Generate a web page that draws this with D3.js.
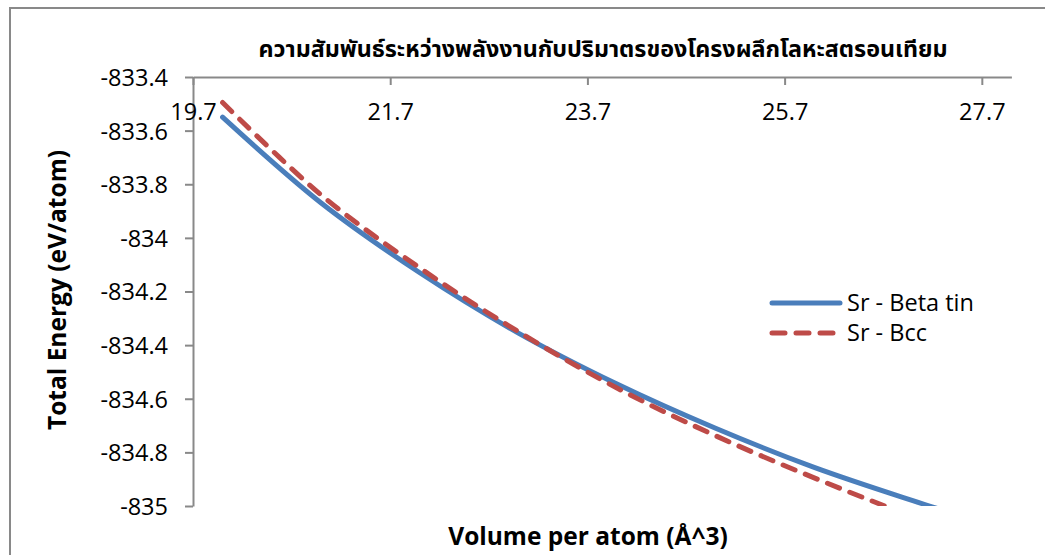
<!DOCTYPE html>
<html>
<head>
<meta charset="utf-8">
<script src="https://cdn.jsdelivr.net/npm/d3@7"></script>
<style>
  html, body { margin: 0; padding: 0; background: #fff; }
  svg { display: block; }
  .tick text { font-family: "Open Sans", "DejaVu Sans", sans-serif; font-size: 23.5px; fill: #000; }
</style>
</head>
<body>
<svg id="chart" width="1045" height="555"></svg>
<script>
// Chart text
const chartTitle = "ความสัมพันธ์ระหว่างพลังงานกับปริมาตรของโครงผลึกโลหะสตรอนเทียม";
const xTitle = "Volume per atom (Å^3)";
const yTitle = "Total Energy (eV/atom)";

// Volume per atom (Å^3)
const volumes = [20, 21, 22, 23, 24, 25, 26, 27, 28];
// Total energy (eV/atom) for each structure
const betaTin = [-833.55, -833.87, -834.13, -834.355, -834.545, -834.71, -834.856, -834.98, -835.095];
const bcc     = [-833.495, -833.84, -834.112, -834.35, -834.56, -834.738, -834.895, -835.04, -835.175];

const seriesNames = ["Sr - Beta tin", "Sr - Bcc"];
const seriesColors = ["#4a7ebb", "#be4b48"];

// Axis ticks
const xTickValues = [19.7, 21.7, 23.7, 25.7, 27.7];
const xTickLabels = ["19.7", "21.7", "23.7", "25.7", "27.7"];
const yTickValues = [-833.4, -833.6, -833.8, -834, -834.2, -834.4, -834.6, -834.8, -835];
const yTickLabels = ["-833.4", "-833.6", "-833.8", "-834", "-834.2", "-834.4", "-834.6", "-834.8", "-835"];

const svg = d3.select("#chart");
const axisColor = "#898989";

// outer chart frame
svg.append("rect")
  .attr("x", 10).attr("y", 8)
  .attr("width", 1060).attr("height", 580)
  .attr("fill", "none")
  .attr("stroke", axisColor)
  .attr("stroke-width", 2);

const plot = { left: 193, top: 77, right: 1011.4, bottom: 506 };

const x = d3.scaleLinear().domain([19.7, 28]).range([plot.left, plot.right]);
const y = d3.scaleLinear().domain([-835, -833.4]).range([plot.bottom, plot.top]);

// y axis
const yAxis = d3.axisLeft(y)
  .tickValues(yTickValues)
  .tickFormat((d, i) => yTickLabels[i])
  .tickSize(8)
  .tickSizeOuter(0)
  .tickPadding(17);

const gy = svg.append("g")
  .attr("transform", `translate(${plot.left},0)`)
  .call(yAxis);
gy.selectAll("text").attr("dy", "0.36em");

// x axis, crossing at the top of the value range
const xAxis = d3.axisBottom(x)
  .tickValues(xTickValues)
  .tickFormat((d, i) => xTickLabels[i])
  .tickSize(8)
  .tickSizeOuter(0)
  .tickPadding(18.3);

const gx = svg.append("g")
  .attr("transform", `translate(0,${plot.top})`)
  .call(xAxis);

[gx, gy].forEach(g => {
  g.select(".domain").attr("stroke", axisColor).attr("stroke-width", 2);
  g.selectAll(".tick line").attr("stroke", axisColor).attr("stroke-width", 2);
});

// clip the curves to the plot area
svg.append("clipPath").attr("id", "plot-clip")
  .append("rect")
  .attr("x", plot.left).attr("y", plot.top)
  .attr("width", plot.right - plot.left)
  .attr("height", plot.bottom - plot.top);

const line = d3.line()
  .x(d => x(d[0]))
  .y(d => y(d[1]))
  .curve(d3.curveCatmullRom.alpha(0.5));

const series = [betaTin, bcc];
const dashes = [null, "13 11"];

const gLines = svg.append("g").attr("clip-path", "url(#plot-clip)");
series.forEach((vals, i) => {
  gLines.append("path")
    .datum(volumes.map((v, j) => [v, vals[j]]))
    .attr("d", line)
    .attr("fill", "none")
    .attr("stroke", seriesColors[i])
    .attr("stroke-width", 5)
    .attr("stroke-linecap", "round")
    .attr("stroke-linejoin", "round")
    .attr("stroke-dasharray", dashes[i]);
});

// legend
const legend = svg.append("g");
const legendRows = [303, 333];
seriesNames.forEach((name, i) => {
  legend.append("line")
    .attr("x1", 772).attr("x2", 840)
    .attr("y1", legendRows[i]).attr("y2", legendRows[i])
    .attr("stroke", seriesColors[i])
    .attr("stroke-width", 5)
    .attr("stroke-linecap", "round")
    .attr("stroke-dasharray", dashes[i]);
  legend.append("text")
    .attr("x", 847).attr("y", legendRows[i])
    .attr("dy", "0.36em")
    .attr("font-family", "'Open Sans', 'DejaVu Sans', sans-serif")
    .attr("font-size", 23.5)
    .attr("fill", "#000")
    .text(name);
});

// title
svg.append("text")
  .attr("x", 603).attr("y", 57)
  .attr("text-anchor", "middle")
  .attr("font-family", "'Noto Sans Thai', Tahoma, 'Leelawadee UI', Garuda, Loma, 'DejaVu Sans', sans-serif")
  .attr("font-weight", "bold")
  .attr("font-size", 23.3)
  .attr("fill", "#000")
  .text(chartTitle);

// axis titles
svg.append("text")
  .attr("x", 588).attr("y", 545)
  .attr("text-anchor", "middle")
  .attr("font-family", "'Open Sans', 'DejaVu Sans', sans-serif")
  .attr("font-weight", "bold")
  .attr("font-size", 24.5)
  .attr("fill", "#000")
  .text(xTitle);

svg.append("text")
  .attr("transform", "translate(66,290) rotate(-90)")
  .attr("text-anchor", "middle")
  .attr("font-family", "'Open Sans', 'DejaVu Sans', sans-serif")
  .attr("font-weight", "bold")
  .attr("font-size", 24.5)
  .attr("fill", "#000")
  .text(yTitle);
</script>
</body>
</html>
